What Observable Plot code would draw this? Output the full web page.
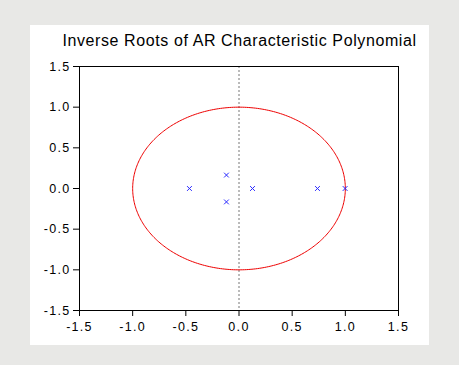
<!DOCTYPE html>
<html>
<head>
<meta charset="utf-8">
<script src="https://cdn.jsdelivr.net/npm/d3@7"></script>
<script src="https://cdn.jsdelivr.net/npm/@observablehq/plot@0.6"></script>
<style>
  html, body { margin: 0; padding: 0; background: #e8e8e6; width: 459px; height: 365px; overflow: hidden; }
  #panel { position: absolute; left: 30px; top: 25px; width: 399px; height: 320px; background: #ffffff; }
  #title { position: absolute; left: 0; width: 399px; top: 7px; text-align: center; font-family: "Liberation Sans", Arial, sans-serif; font-size: 16px; letter-spacing: 0.6px; color: #000; padding-left: 20px; box-sizing: border-box; white-space: nowrap; }
  #chart { position: absolute; left: 0; top: 31px; }
</style>
</head>
<body>
<div id="panel">
  <div id="title"></div>
  <div id="chart"></div>
</div>
<script>
const titleText = "Inverse Roots of AR Characteristic Polynomial";
const rootsRe = [-0.466, -0.118, -0.118, 0.127, 0.738, 0.998];
const rootsIm = [0, 0.165, -0.165, 0, 0, 0];
const xTicks = [-1.5, -1.0, -0.5, 0.0, 0.5, 1.0, 1.5];
const yTicks = [-1.5, -1.0, -0.5, 0.0, 0.5, 1.0, 1.5];

document.getElementById("title").textContent = titleText;

const roots = rootsRe.map((re, i) => ({re, im: rootsIm[i]}));
// unit circle reference
const circle = d3.range(0, 361).map(a => ({x: Math.cos(a * Math.PI / 180), y: Math.sin(a * Math.PI / 180)}));
const fmt = d => d.toFixed(1);

const plot = Plot.plot({
  width: 399,
  height: 284,
  marginLeft: 49,
  marginRight: 31,
  marginTop: 10,
  marginBottom: 30,
  style: {fontFamily: "'Liberation Sans', Arial, sans-serif", fontSize: "12.5px", letterSpacing: "1.3px", color: "#000", background: "transparent"},
  x: {domain: [-1.5, 1.5], ticks: xTicks, tickFormat: fmt, tickSize: 6, tickPadding: 6, label: null},
  y: {domain: [-1.5, 1.5], ticks: yTicks, tickFormat: fmt, tickSize: 6, tickPadding: 3, label: null},
  marks: [
    Plot.ruleX([0], {stroke: "#777", strokeWidth: 1, strokeDasharray: "2,2"}),
    Plot.line(circle, {x: "x", y: "y", stroke: "#ee0000", strokeWidth: 1}),
    Plot.dot(roots, {x: "re", y: "im", symbol: "times", r: 2.3, stroke: "#2a2aff", strokeWidth: 1}),
    Plot.frame({stroke: "#000", strokeWidth: 1})
  ]
});
document.getElementById("chart").appendChild(plot);
</script>
</body>
</html>
